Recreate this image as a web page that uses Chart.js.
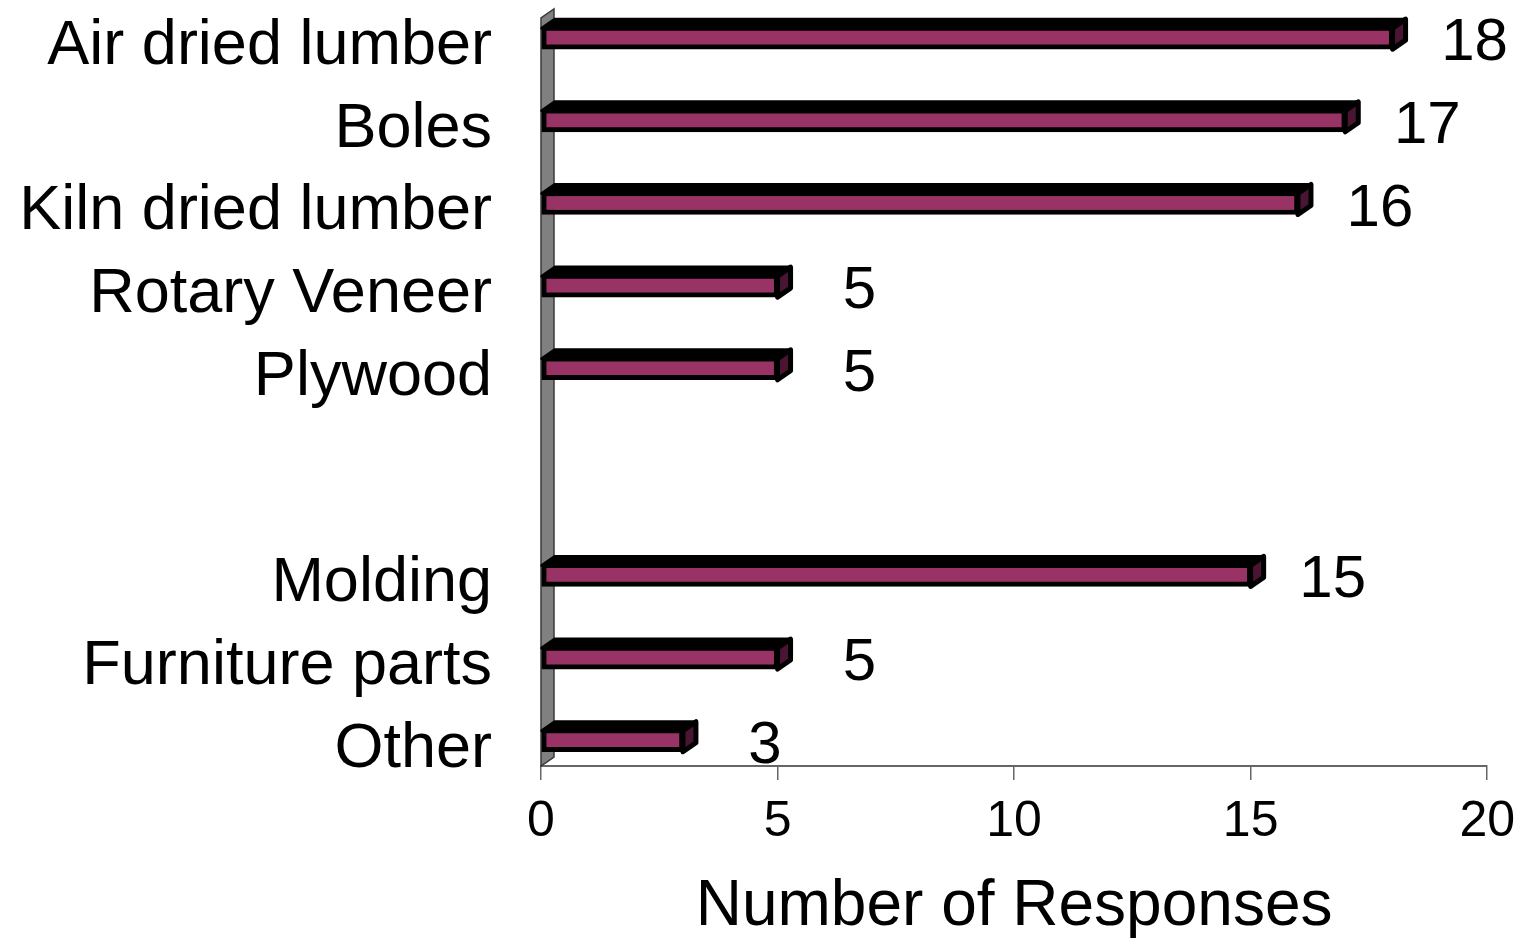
<!DOCTYPE html>
<html>
<head>
<meta charset="utf-8">
<script src="https://cdn.jsdelivr.net/npm/chart.js@4.4.1/dist/chart.umd.min.js"></script>
<style>
  html, body { margin: 0; padding: 0; background: #fff; }
  #wrap { width: 1532px; height: 939px; }
</style>
</head>
<body>
<div id="wrap"><canvas id="chart" width="1532" height="939"></canvas></div>
<script>
const categories = ['Air dried lumber', 'Boles', 'Kiln dried lumber', 'Rotary Veneer', 'Plywood', 'Molding', 'Furniture parts', 'Other'];
const responses = [18, 17, 16, 5, 5, 15, 5, 3];
const xTicks = [0, 5, 10, 15, 20];
const axisTitle = 'Number of Responses';

// the last three products sit in their own group, below a gap
const groupBreak = 5;
const groupGap = 1.5;
const slots = categories.map((c, i) => (i < groupBreak ? i : i + groupGap));

const FONT = "'Liberation Sans', Arial, sans-serif";
const DX = 13, DY = 9; // depth of the 3-D bars and the side wall

const bar3d = {
  id: 'bar3d',
  beforeDatasetsDraw(chart) {
    // grey side wall behind the bars
    const { ctx, chartArea, scales } = chart;
    const x0 = scales.x.getPixelForValue(0);
    ctx.save();
    ctx.beginPath();
    ctx.moveTo(x0, chartArea.bottom);
    ctx.lineTo(x0, chartArea.top);
    ctx.lineTo(x0 + DX, chartArea.top - DY);
    ctx.lineTo(x0 + DX, chartArea.bottom - DY);
    ctx.closePath();
    ctx.fillStyle = '#808080';
    ctx.fill();
    ctx.lineWidth = 1.5;
    ctx.strokeStyle = '#3a3a3a';
    ctx.stroke();
    ctx.restore();
  },
  afterDatasetsDraw(chart) {
    const { ctx } = chart;
    const meta = chart.getDatasetMeta(0);
    const values = chart.data.datasets[0].data;
    ctx.save();
    meta.data.forEach((bar, i) => {
      const { x, y, base, height } = bar.getProps(['x', 'y', 'base', 'height'], true);
      const top = y - height / 2;
      const bot = y + height / 2;

      // top face
      ctx.beginPath();
      ctx.moveTo(base, top);
      ctx.lineTo(x, top);
      ctx.lineTo(x + DX, top - DY);
      ctx.lineTo(base + DX, top - DY);
      ctx.closePath();
      ctx.fillStyle = '#000';
      ctx.fill();
      ctx.lineWidth = 3;
      ctx.lineJoin = 'round';
      ctx.strokeStyle = '#000';
      ctx.stroke();

      // end face
      ctx.beginPath();
      ctx.moveTo(x, top);
      ctx.lineTo(x + DX, top - DY);
      ctx.lineTo(x + DX, bot - DY);
      ctx.lineTo(x, bot);
      ctx.closePath();
      ctx.fillStyle = '#4a1533';
      ctx.fill();
      ctx.lineWidth = 5;
      ctx.stroke();

      // value label
      ctx.fillStyle = '#000';
      ctx.font = '60px ' + FONT;
      ctx.textAlign = 'center';
      ctx.textBaseline = 'middle';
      ctx.fillText(String(values[i].x), x + 82, y + 5);
    });
    ctx.restore();
  }
};

new Chart(document.getElementById('chart'), {
  type: 'bar',
  data: {
    datasets: [{
      data: responses.map((v, i) => ({ x: v, y: slots[i] })),
      backgroundColor: '#993366',
      borderColor: '#000',
      borderWidth: { top: 3, right: 4, bottom: 5, left: 5 },
      borderSkipped: false,
      barThickness: 21
    }]
  },
  options: {
    indexAxis: 'y',
    responsive: false,
    animation: false,
    layout: { padding: { top: 18, right: 44, bottom: 0, left: 0 } },
    plugins: { legend: { display: false }, tooltip: { enabled: false } },
    scales: {
      y: {
        type: 'linear',
        reverse: true,
        offset: false,
        min: -0.25,
        max: 8.8,
        grid: { display: false },
        border: { display: false },
        afterBuildTicks: axis => { axis.ticks = slots.map(v => ({ value: v })); },
        afterFit: axis => {
          axis.width = 541;
          axis.paddingTop = 0;
          axis.paddingBottom = 0;
        },
        ticks: {
          autoSkip: false,
          padding: 41,
          color: '#000',
          // blank first line nudges each name a little below its bar
          font: { family: FONT, size: 63, lineHeight: '16px' },
          callback: (v, i) => ['', categories[i]]
        }
      },
      x: {
        type: 'linear',
        min: 0,
        max: 20,
        afterBuildTicks: axis => { axis.ticks = xTicks.map(v => ({ value: v })); },
        grid: { display: true, drawOnChartArea: false, drawTicks: true, tickLength: 14, color: '#666', lineWidth: 1.5 },
        border: { display: true, color: '#666', width: 2 },
        ticks: {
          padding: 17,
          color: '#000',
          font: { family: FONT, size: 50, lineHeight: 1 }
        },
        title: {
          display: true,
          text: axisTitle,
          color: '#000',
          font: { family: FONT, size: 64, lineHeight: 1 },
          padding: { top: 11, bottom: 0 }
        }
      }
    }
  },
  plugins: [bar3d]
});
</script>
</body>
</html>
